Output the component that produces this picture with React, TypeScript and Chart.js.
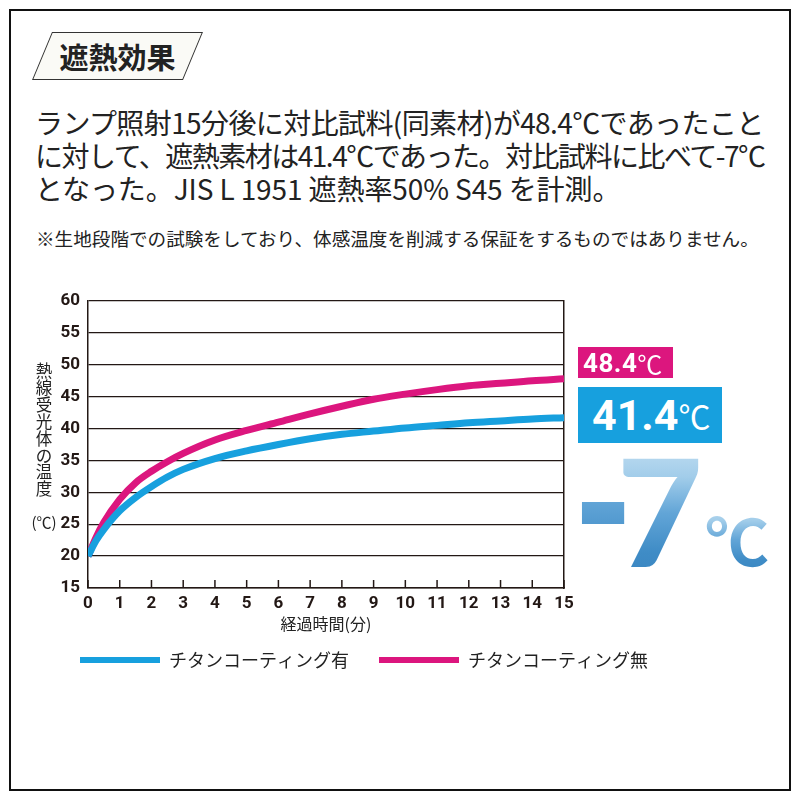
import React, { useEffect, useRef } from "react";
import { Chart, registerables } from "chart.js";

Chart.register(...registerables);

// ---- data ----
const minutes = [0, 0.25, 0.5, 1, 1.5, 2, 2.5, 3, 4, 5, 6, 7, 8, 9, 10, 11, 12, 13, 14, 15];
const coatedTemps = [20, 22.4, 24.2, 27.1, 29.2, 30.9, 32.4, 33.6, 35.3, 36.5, 37.5, 38.4, 39.1, 39.6, 40.1, 40.5, 40.9, 41.2, 41.5, 41.7];
const uncoatedTemps = [20, 22.9, 25.3, 28.9, 31.5, 33.3, 34.8, 36.1, 38.2, 39.7, 41.0, 42.3, 43.5, 44.6, 45.4, 46.1, 46.7, 47.1, 47.5, 47.8];
const seriesLabels = ["チタンコーティング有", "チタンコーティング無"];
const xRange = [0, 15];
const yRange = [15, 60];
const yStep = 5;
const xAxisTitle = "経過時間(分)";
const yAxisTitleChars = ["熱", "線", "受", "光", "体", "の", "温", "度"];
const yAxisUnit = "(℃)";
const uncoatedFinal = "48.4";
const coatedFinal = "41.4";
const differenceSign = "-";
const differenceValue = "7";
const heading = "遮熱効果";
const bodyLines = [
  "ランプ照射15分後に対比試料(同素材)が48.4℃であったこと",
  "に対して、遮熱素材は41.4℃であった。対比試料に比べて-7℃",
  "となった。JIS L 1951 遮熱率50% S45 を計測。",
];
const bodySpacing = ["-0.6px", "-1.5px", "-0.1px"];
const noteLine = "※生地段階での試験をしており、体感温度を削減する保証をするものではありません。";

const BLUE = "#17a0de";
const MAGENTA = "#dc167e";
const INK = "#231815";
const JP = '"Noto Sans CJK JP", "Noto Sans", sans-serif';
const NUM = 'Roboto, "Noto Sans", sans-serif';
const HEAVY = 'Lato, "DejaVu Sans", sans-serif';

const innerTicks = {
  id: "innerTicks",
  beforeDatasetsDraw(chart: any) {
    const { ctx, chartArea, scales } = chart;
    const xs = scales.x;
    ctx.save();
    ctx.strokeStyle = INK;
    ctx.lineWidth = 1.5;
    xs.ticks.forEach((t: any) => {
      const px = xs.getPixelForValue(t.value);
      ctx.beginPath();
      ctx.moveTo(px, chartArea.bottom);
      ctx.lineTo(px, chartArea.bottom - 8);
      ctx.stroke();
    });
    ctx.restore();
  },
};

function TempChart() {
  const ref = useRef<HTMLCanvasElement | null>(null);
  useEffect(() => {
    if (!ref.current) return;
    const chart = new Chart(ref.current, {
      type: "line",
      data: {
        datasets: [
          {
            label: seriesLabels[0],
            data: minutes.map((m, i) => ({ x: m, y: coatedTemps[i] })),
            borderColor: BLUE,
            backgroundColor: BLUE,
            borderWidth: 7,
            pointRadius: 0,
            cubicInterpolationMode: "monotone",
          },
          {
            label: seriesLabels[1],
            data: minutes.map((m, i) => ({ x: m, y: uncoatedTemps[i] })),
            borderColor: MAGENTA,
            backgroundColor: MAGENTA,
            borderWidth: 7,
            pointRadius: 0,
            cubicInterpolationMode: "monotone",
          },
        ],
      },
      options: {
        animation: false,
        responsive: false,
        devicePixelRatio: 1,
        layout: { padding: { top: 21, left: 0, right: 0, bottom: 0 } },
        plugins: {
          tooltip: { enabled: false },
          legend: {
            position: "bottom",
            align: "start",
            labels: {
              boxWidth: 80,
              boxHeight: 6,
              padding: 30,
              color: "#222",
              font: { family: JP, size: 18 },
              generateLabels: (c: any) =>
                c.data.datasets.map((d: any, i: number) => ({
                  text: d.label,
                  fillStyle: d.borderColor,
                  strokeStyle: d.borderColor,
                  lineWidth: 0,
                  hidden: false,
                  datasetIndex: i,
                  fontColor: "#222",
                })),
            },
          },
        },
        scales: {
          x: {
            type: "linear",
            min: xRange[0],
            max: xRange[1],
            ticks: {
              stepSize: 1,
              padding: 6,
              color: INK,
              font: { family: NUM, size: 17, weight: "bold" },
              maxRotation: 0,
              autoSkip: false,
            },
            grid: { display: false, drawTicks: false },
            border: { display: true, color: INK, width: 1.5 },
            title: {
              display: true,
              text: xAxisTitle,
              color: "#222",
              font: { family: JP, size: 16 },
              padding: { top: 0, bottom: -12.6 },
            },
            afterFit: (s: any) => {
              s.height = 33;
            },
          },
          y: {
            min: yRange[0],
            max: yRange[1],
            ticks: {
              stepSize: yStep,
              padding: 8,
              color: INK,
              font: { family: NUM, size: 17, weight: "bold" },
            },
            grid: { color: INK, lineWidth: 1.3, drawTicks: false },
            border: { display: true, color: INK, width: 1.5 },
            afterFit: (s: any) => {
              s.width = 38;
            },
          },
          y2: {
            position: "right",
            min: yRange[0],
            max: yRange[1],
            ticks: { display: false },
            grid: { display: false, drawTicks: false },
            border: { display: true, color: INK, width: 1.5 },
            afterFit: (s: any) => {
              s.width = 226;
            },
          },
        },
      },
      plugins: [innerTicks],
    } as any);
    return () => chart.destroy();
  }, []);
  return (
    <canvas
      ref={ref}
      width={740}
      height={399}
      style={{ position: "absolute", left: 50, top: 280, width: 740, height: 399 }}
    />
  );
}

const gradText: React.CSSProperties = {
  position: "absolute",
  background: "linear-gradient(180deg, #c8e1f3 0%, #a2cdea 28%, #62a5d7 52%, #3f8cc6 78%, #3984c0 100%)",
  WebkitBackgroundClip: "text",
  backgroundClip: "text",
  color: "transparent",
  WebkitTextFillColor: "transparent",
  whiteSpace: "nowrap",
};

export default function App() {
  return (
    <div
      style={{
        position: "absolute",
        left: 0,
        top: 0,
        width: 800,
        height: 800,
        background: "#fff",
        fontFamily: JP,
        color: "#222",
        overflow: "hidden",
      }}
    >
      <div
        style={{
          position: "absolute",
          left: 9,
          top: 9,
          width: 782,
          height: 782,
          border: "2px solid #111",
          boxSizing: "border-box",
        }}
      />
      {/* heading box */}
      <div
        style={{
          position: "absolute",
          left: 42,
          top: 32,
          width: 151,
          height: 48,
          border: "1.3px solid #333",
          background: "#fafaf6",
          boxSizing: "border-box",
          transform: "skewX(-22.6deg)",
        }}
      />
      <div
        style={{
          position: "absolute",
          left: 42,
          top: 32,
          width: 151,
          height: 48,
          display: "flex",
          alignItems: "center",
          justifyContent: "center",
          fontSize: 29,
          fontWeight: 700,
          color: "#222",
        }}
      >
        {heading}
      </div>
      {/* body text */}
      <div style={{ position: "absolute", left: 35, top: 106, fontSize: 28, lineHeight: "33px", whiteSpace: "nowrap" }}>
        {bodyLines.map((l, i) => (
          <div key={i} style={{ letterSpacing: bodySpacing[i] }}>
            {l}
          </div>
        ))}
      </div>
      <div style={{ position: "absolute", left: 36, top: 228, fontSize: 18.6, lineHeight: "20px", whiteSpace: "nowrap" }}>
        {noteLine}
      </div>

      <TempChart />

      {/* y axis title */}
      <div
        style={{
          position: "absolute",
          left: 35,
          top: 362,
          width: 18,
          fontSize: 16.5,
          lineHeight: "16.9px",
          textAlign: "center",
          color: "#222",
        }}
      >
        {yAxisTitleChars.map((c, i) => (
          <div key={i}>{c}</div>
        ))}
      </div>
      <div style={{ position: "absolute", left: 29, top: 512, width: 30, fontSize: 15, lineHeight: "20px", textAlign: "center" }}>
        {yAxisUnit}
      </div>

      {/* final value labels */}
      <div
        style={{
          position: "absolute",
          left: 578,
          top: 347,
          width: 95,
          height: 31,
          background: MAGENTA,
          color: "#fff",
          display: "flex",
          alignItems: "center",
          paddingLeft: 5,
          boxSizing: "border-box",
          whiteSpace: "nowrap",
        }}
      >
        <span style={{ fontFamily: NUM, fontWeight: 700, fontSize: 26, letterSpacing: "0.5px" }}>{uncoatedFinal}</span>
        <span style={{ fontFamily: JP, fontSize: 25 }}>℃</span>
      </div>
      <div
        style={{
          position: "absolute",
          left: 578,
          top: 387,
          width: 144,
          height: 56,
          background: BLUE,
          color: "#fff",
          display: "flex",
          alignItems: "center",
          paddingLeft: 14,
          boxSizing: "border-box",
          whiteSpace: "nowrap",
        }}
      >
        <span style={{ fontFamily: NUM, fontWeight: 700, fontSize: 43 }}>{coatedFinal}</span>
        <span style={{ fontFamily: JP, fontSize: 32 }}>℃</span>
      </div>
      {/* difference */}
      <div
        style={{
          ...gradText,
          left: 572,
          top: 417,
          fontFamily: HEAVY,
          fontWeight: 900,
          fontSize: 148,
          lineHeight: "150px",
          transform: "translate(4.1px, 9.8px) scale(1.08, 1.32)",
          transformOrigin: "34.4px 92.2px",
        }}
      >
        {differenceSign}
      </div>
      <div
        style={{
          ...gradText,
          left: 617,
          top: 435,
          fontFamily: HEAVY,
          fontWeight: 900,
          fontSize: 148,
          lineHeight: "150px",
        }}
      >
        {differenceValue}
      </div>
      <div style={{ ...gradText, left: 705, top: 498, fontFamily: JP, fontWeight: 700, fontSize: 64, lineHeight: "80px" }}>
        ℃
      </div>
    </div>
  );
}
